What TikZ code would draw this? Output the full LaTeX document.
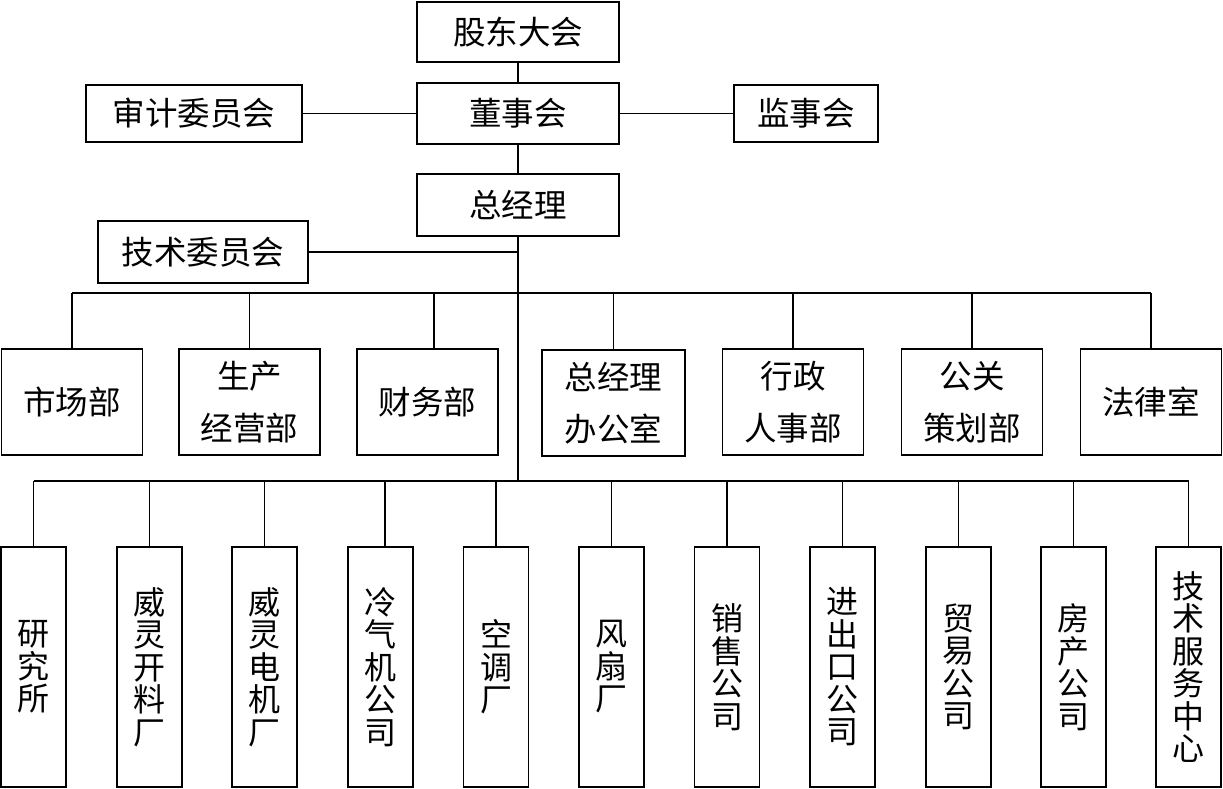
\documentclass[tikz,border=0pt]{standalone}
\usepackage{fontspec}
\setmainfont{Noto Sans CJK SC}
\begin{document}
\begin{tikzpicture}[x=1pt,y=-1pt,
  box/.style={draw, line width=1.5pt, rectangle, inner sep=0pt, align=center,
    font=\fontsize{32.5}{32.5}\selectfont},
  mid/.style={box, minimum width=141pt, minimum height=106pt, font=\fontsize{32.5}{52}\selectfont},
  vbox/.style={box, minimum width=65pt, minimum height=240pt, font=\fontsize{32}{32.5}\selectfont},
  conn/.style={line width=1.5pt}]
\useasboundingbox (0,0) rectangle (1223,789);
% top
\node[box, minimum width=202pt, minimum height=60pt] (gd) at (518,32) {股东大会};
\node[box, minimum width=202pt, minimum height=61pt] (dsh) at (518,113.5) {董事会};
\node[box, minimum width=202pt, minimum height=62pt] (zjl) at (518,205) {总经理};
\node[box, minimum width=216pt, minimum height=57pt] (sj) at (194,113.5) {审计委员会};
\node[box, minimum width=144pt, minimum height=57pt] (js) at (806,113.5) {监事会};
\node[box, minimum width=210pt, minimum height=62pt] (jw) at (203,252) {技术委员会};
% middle
\node[mid] (m1) at (72,402) {市场部};
\node[mid] (m2) at (249.5,402) {生产\\经营部};
\node[mid] (m3) at (427.5,402) {财务部};
\node[mid, minimum width=143pt] (m4) at (613.5,403) {总经理\\办公室};
\node[mid] (m5) at (793,402) {行政\\人事部};
\node[mid] (m6) at (972,402) {公关\\策划部};
\node[mid] (m7) at (1151,402) {法律室};
% bottom
\node[vbox] (b1) at (33.5,667) {研\\究\\所};
\node[vbox] (b2) at (149.5,667) {威\\灵\\开\\料\\厂};
\node[vbox] (b3) at (264.5,667) {威\\灵\\电\\机\\厂};
\node[vbox] (b4) at (380.5,667) {冷\\气\\机\\公\\司};
\node[vbox] (b5) at (496,667) {空\\调\\厂};
\node[vbox] (b6) at (611.5,667) {风\\扇\\厂};
\node[vbox] (b7) at (727,667) {销\\售\\公\\司};
\node[vbox] (b8) at (842.5,667) {进\\出\\口\\公\\司};
\node[vbox] (b9) at (958.5,667) {贸\\易\\公\\司};
\node[vbox] (b10) at (1073.5,667) {房\\产\\公\\司};
\node[vbox] (b11) at (1188.5,667) {技\\术\\服\\务\\中\\心};
% bus coordinates
\coordinate (busA) at (518,293);
\coordinate (busB) at (518,481);
% connectors
\draw[conn] (gd.south) -- (dsh.north);
\draw[conn] (sj.east) -- (dsh.west);
\draw[conn] (dsh.east) -- (js.west);
\draw[conn] (dsh.south) -- (zjl.north);
\draw[conn] (zjl.south) -- (busB);
\draw[conn] (jw.east) -- (jw.east -| zjl.south);
\draw[conn] (m1.north |- busA) -- (m7.north |- busA);
\draw[conn] (b1.north |- busB) -- (b11.north |- busB);
\foreach \n in {m1,m2,m4,m5,m6,m7}{
  \draw[conn] (\n.north) -- (\n.north |- busA);
}
\draw[conn] ([xshift=6.5pt]m3.north) -- ([xshift=6.5pt]m3.north |- busA);
\foreach \n in {b1,b2,b3,b5,b6,b7,b8,b9,b10,b11}{
  \draw[conn] (\n.north) -- (\n.north |- busB);
}
\draw[conn] ([xshift=4.5pt]b4.north) -- ([xshift=4.5pt]b4.north |- busB);
\end{tikzpicture}
\end{document}
